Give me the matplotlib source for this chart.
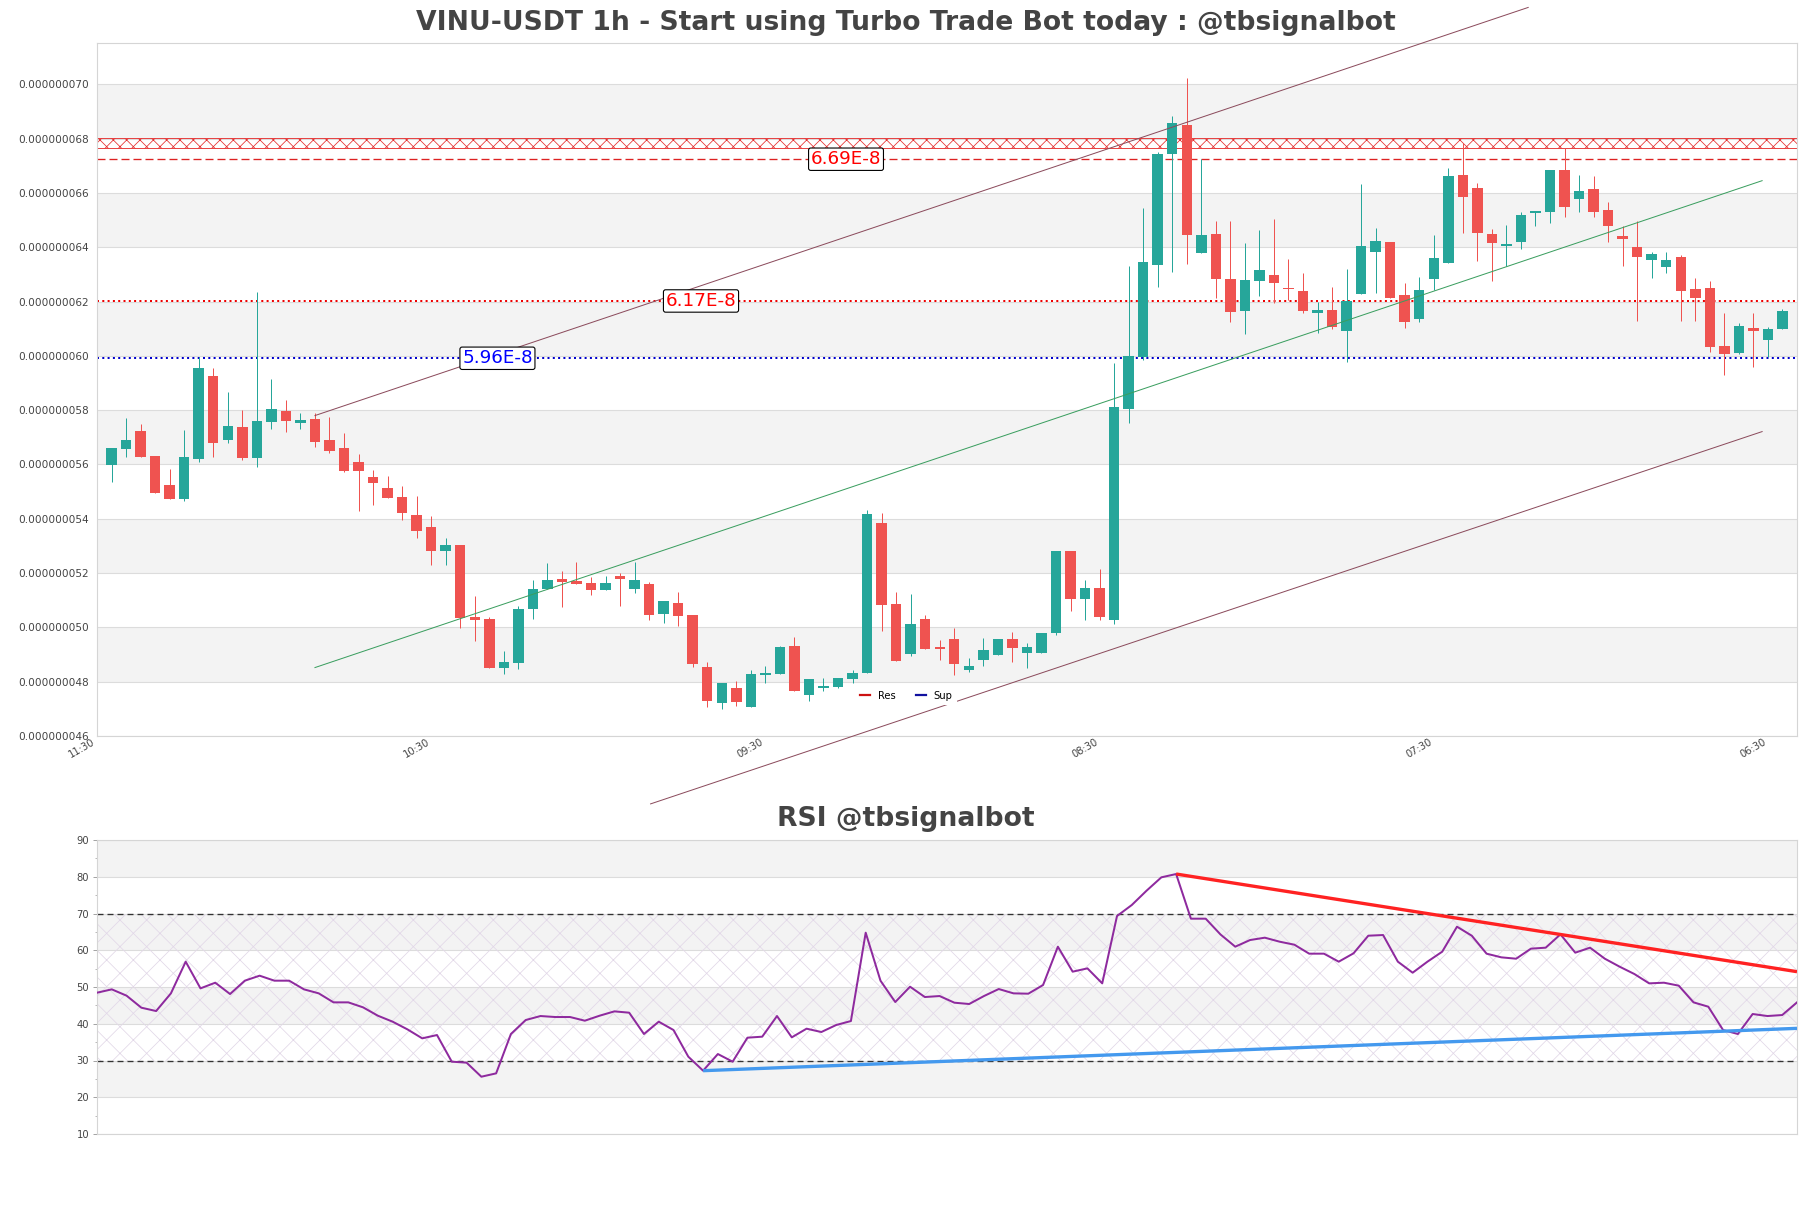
import numpy as np
import matplotlib.pyplot as plt
from matplotlib.lines import Line2D
from matplotlib.ticker import FuncFormatter, MultipleLocator

plt.rcParams["font.family"] = ["DejaVu Sans"]
plt.rcParams["hatch.linewidth"] = 0.7

# prices in units of 1e-9 USDT
SCALE = 1e-9

opens = [
    55.98, 56.58, 57.23, 56.31, 55.24, 54.74, 56.21, 59.25, 56.90, 57.38,
    56.24, 57.57, 57.97, 57.51, 57.67, 56.90, 56.59, 56.09, 55.52, 55.12,
    54.79, 54.14, 53.69, 52.82, 53.03, 50.37, 50.31, 48.51, 48.70, 50.67,
    51.42, 51.80, 51.72, 51.63, 51.39, 51.89, 51.42, 51.59, 50.50, 50.91,
    50.45, 48.55, 47.22, 47.78, 47.08, 48.25, 48.28, 49.31, 47.51, 47.78,
    47.81, 48.11, 48.33, 53.85, 50.86, 49.02, 50.31, 49.28, 49.57, 48.43,
    48.80, 48.98, 49.59, 49.04, 49.06, 49.80, 52.81, 51.04, 51.44, 50.27,
    58.03, 59.94, 63.34, 67.43, 68.50, 63.77, 64.47, 62.82, 61.66, 62.77,
    62.97, 62.51, 62.39, 61.59, 61.69, 60.93, 62.28, 63.84, 64.18, 62.24,
    61.36, 62.82, 63.41, 66.66, 66.17, 64.47, 64.06, 64.20, 65.25, 65.31,
    66.84, 65.78, 66.14, 65.37, 64.41, 64.02, 63.53, 63.28, 63.65, 62.47,
    62.49, 60.36, 60.12, 61.04, 60.59, 60.99,
]
highs = [
    56.62, 57.70, 57.49, 56.31, 55.83, 57.27, 59.97, 59.55, 58.68, 58.00,
    62.34, 59.15, 58.37, 57.88, 57.88, 57.76, 57.14, 56.38, 55.79, 55.57,
    55.20, 54.84, 54.10, 53.30, 53.03, 51.15, 50.37, 49.14, 50.78, 51.74,
    52.38, 52.07, 52.39, 51.87, 51.89, 51.99, 52.39, 51.66, 50.97, 51.29,
    50.45, 48.71, 47.96, 48.02, 48.43, 48.57, 49.31, 49.65, 48.11, 48.12,
    48.14, 48.43, 54.32, 54.20, 51.32, 51.23, 50.45, 49.53, 49.97, 48.86,
    49.61, 49.59, 49.84, 49.41, 49.81, 52.81, 52.81, 51.74, 52.15, 59.72,
    63.31, 65.43, 67.52, 68.83, 70.22, 67.24, 64.98, 64.98, 64.14, 64.63,
    65.04, 63.55, 63.04, 61.99, 62.52, 63.18, 66.33, 64.70, 64.18, 62.67,
    62.89, 64.45, 66.90, 67.83, 66.38, 64.66, 64.82, 65.28, 65.33, 66.84,
    67.64, 66.66, 66.62, 65.65, 64.78, 64.98, 63.84, 63.84, 63.71, 62.85,
    62.77, 61.56, 61.22, 61.59, 61.07, 61.72,
]
lows = [
    55.36, 56.28, 56.28, 54.96, 54.74, 54.66, 56.10, 56.26, 56.78, 56.16,
    55.92, 57.29, 57.21, 57.29, 56.63, 56.43, 55.73, 54.30, 54.50, 54.77,
    53.95, 53.30, 52.29, 52.29, 49.99, 49.51, 48.51, 48.28, 48.45, 50.32,
    51.42, 50.76, 51.61, 51.21, 51.39, 50.80, 51.27, 50.27, 50.17, 50.06,
    48.55, 47.08, 46.99, 47.10, 47.08, 47.96, 48.28, 47.67, 47.29, 47.67,
    47.75, 47.96, 48.33, 49.88, 48.77, 48.94, 49.21, 48.80, 48.24, 48.37,
    48.57, 48.98, 48.73, 48.51, 49.06, 49.72, 50.61, 50.27, 50.29, 50.12,
    57.54, 59.85, 62.52, 63.10, 63.40, 63.77, 62.12, 61.26, 60.79, 62.21,
    61.93, 62.06, 61.56, 60.83, 60.97, 59.78, 62.28, 62.33, 62.14, 61.01,
    61.26, 62.42, 63.41, 64.51, 63.50, 62.77, 63.32, 63.92, 64.78, 64.90,
    65.12, 65.31, 65.10, 64.20, 63.32, 61.30, 62.85, 63.04, 61.30, 61.30,
    60.15, 59.29, 60.06, 59.60, 59.97, 60.99,
]
closes = [
    56.59, 56.90, 56.28, 54.96, 54.74, 56.26, 59.55, 56.80, 57.41, 56.24,
    57.60, 58.04, 57.61, 57.64, 56.84, 56.51, 55.77, 55.77, 55.33, 54.77,
    54.22, 53.56, 52.82, 53.03, 50.33, 50.27, 48.51, 48.71, 50.67, 51.43,
    51.73, 51.68, 51.61, 51.39, 51.63, 51.79, 51.74, 50.45, 50.97, 50.42,
    48.65, 47.28, 47.96, 47.25, 48.28, 48.33, 49.27, 47.67, 48.11, 47.85,
    48.14, 48.33, 54.17, 50.83, 48.77, 50.12, 49.21, 49.22, 48.65, 48.57,
    49.16, 49.59, 49.25, 49.26, 49.81, 52.81, 51.05, 51.44, 50.39, 58.13,
    59.99, 63.44, 67.43, 68.56, 64.45, 64.45, 62.82, 61.63, 62.79, 63.16,
    62.70, 62.47, 61.66, 61.69, 61.07, 62.02, 64.04, 64.23, 62.14, 61.26,
    62.42, 63.61, 66.62, 65.86, 64.54, 64.17, 64.11, 65.19, 65.33, 66.84,
    65.49, 66.07, 65.31, 64.79, 64.31, 63.63, 63.75, 63.53, 62.39, 62.14,
    60.34, 60.06, 61.10, 60.93, 60.99, 61.65,
]

rsi = [
    48.45, 49.36, 47.64, 44.37, 43.46, 48.27, 56.89, 49.63, 51.17, 48.09,
    51.72, 53.08, 51.72, 51.72, 49.36, 48.27, 45.82, 45.82, 44.46, 42.19,
    40.56, 38.47, 36.03, 36.93, 29.68, 29.41, 25.59, 26.50, 37.21, 41.01,
    42.10, 41.83, 41.83, 40.83, 42.19, 43.37, 43.01, 37.21, 40.56, 38.29,
    31.04, 27.23, 31.76, 29.68, 36.21, 36.48, 42.10, 36.30, 38.66, 37.75,
    39.65, 40.74, 64.78, 51.72, 45.91, 50.08, 47.27, 47.54, 45.73, 45.37,
    47.54, 49.45, 48.27, 48.18, 50.54, 60.97, 54.17, 55.07, 50.99, 69.31,
    72.31, 76.21, 79.84, 80.74, 68.59, 68.59, 64.30, 60.97, 62.78, 63.42,
    62.33, 61.51, 59.07, 59.07, 56.89, 59.16, 63.96, 64.14, 56.89, 53.89,
    56.89, 59.61, 66.41, 63.96, 59.07, 58.07, 57.70, 60.43, 60.70, 64.33,
    59.34, 60.70, 57.70, 55.53, 53.53, 50.99, 51.17, 50.36, 45.82, 44.64,
    38.29, 37.21, 42.65, 42.10, 42.37, 45.82,
]

time_labels = ["11:30", "10:30", "09:30", "08:30", "07:30", "06:30"]
label_every = 23

# support / resistance levels
res_level = 62.02
sup_level = 59.91
res_dashed = 67.24
res_zone = (67.64, 68.01)
tag_texts = ["6.69E-8", "6.17E-8", "5.96E-8"]
tag_levels = [res_dashed, res_level, sup_level]
tag_colors = ["red", "red", "blue"]
tag_x = [50.55, 40.57, 26.56]

# channel lines (candle index, price)
mid_x, mid_y = [14, 113.6], [48.52, 66.45]
upper_x, upper_y = [14, 97.5], [57.80, 72.83]
lower_x, lower_y = [37.1, 113.6], [43.50, 57.21]

# RSI trend lines (index, rsi)
rsi_res_x, rsi_res_y = [73, 115], [80.74, 54.17]
rsi_sup_x, rsi_sup_y = [41, 115], [27.23, 38.75]

UP = "#26a69a"
DOWN = "#ef5350"
BAND = "#f3f3f3"
GRID = "#dcdcdc"
TXT = "#444444"

W, H, DPI = 1811, 1208, 80
fig = plt.figure(figsize=(W / DPI, H / DPI), dpi=DPI)
fig.patch.set_facecolor("white")

ax = fig.add_axes([97 / W, 1 - 736 / H, 1700 / W, 693 / H])
ax2 = fig.add_axes([97 / W, 1 - 1134 / H, 1700 / W, 294 / H])


def style_axes(a):
    for sp in a.spines.values():
        sp.set_color("#d5d5d5")
        sp.set_linewidth(1.0)
    a.set_axisbelow(True)
    a.grid(axis="y", color=GRID, linewidth=1.0)
    a.grid(axis="x", visible=False)


def stripe(a, ticks):
    ticks = sorted(ticks, reverse=True)
    for j in range(len(ticks) - 1):
        if j % 2 == 0:
            a.axhspan(ticks[j + 1], ticks[j], color=BAND, lw=0, zorder=0)


# ---- price panel ----
o = np.array(opens) * SCALE
h = np.array(highs) * SCALE
l = np.array(lows) * SCALE
c = np.array(closes) * SCALE
n = len(o)
x = np.arange(n)
colors = np.where(c >= o, UP, DOWN)

price_ticks = np.arange(46, 71, 2) * SCALE
style_axes(ax)
stripe(ax, list(price_ticks))

ax.axhspan(res_zone[0] * SCALE, res_zone[1] * SCALE, facecolor="none",
           edgecolor="#e53030", hatch="xx", lw=0.8, zorder=1)
ax.axhline(res_dashed * SCALE, color="#dd2222", lw=1.2, ls=(0, (6, 3)), zorder=1)
ax.axhline(res_level * SCALE, color="#ee0000", lw=1.8, ls=":", zorder=1)
ax.axhline(sup_level * SCALE, color="#0000cc", lw=1.8, ls=":", zorder=1)

ax.vlines(x, l, h, colors=colors, lw=0.9, zorder=2)
body = np.maximum(np.abs(c - o), 0.04 * SCALE)
ax.bar(x, body, bottom=np.minimum(o, c), width=0.72, color=colors, lw=0, zorder=3)

ax.plot(mid_x, np.array(mid_y) * SCALE, color="#3a9e5f", lw=0.9, zorder=4)
ax.plot(upper_x, np.array(upper_y) * SCALE, color="#8b4b5c", lw=0.9,
        zorder=4, clip_on=False)
ax.plot(lower_x, np.array(lower_y) * SCALE, color="#8b4b5c", lw=0.9,
        zorder=4, clip_on=False)

for t, lv, col, tx in zip(tag_texts, tag_levels, tag_colors, tag_x):
    ax.text(tx, lv * SCALE, t, color=col, fontsize=16.5, ha="center", va="center",
            zorder=6, bbox=dict(boxstyle="round,pad=0.12", fc="white", ec="black", lw=1.0))

ax.set_xlim(-1, n)
ax.set_ylim(46 * SCALE, 71.52 * SCALE)
ax.set_yticks(price_ticks)
ax.yaxis.set_major_formatter(FuncFormatter(lambda v, _p: f"{v:.9f}"))
ax.tick_params(axis="y", length=0, pad=7, labelsize=9.5, labelcolor=TXT)
ax.set_xticks(np.arange(len(time_labels)) * label_every - 1)
ax.set_xticklabels(time_labels, rotation=30, ha="right")
ax.tick_params(axis="x", length=0, pad=1, labelsize=9, labelcolor=TXT)

handles = [Line2D([], [], color="#cc1111", lw=2), Line2D([], [], color="#11119f", lw=2)]
leg = ax.legend(handles, ["Res", "Sup"], loc="center", bbox_to_anchor=(0.476, 0.058),
                ncol=2, fontsize=9, handlelength=1.0, handletextpad=0.8,
                columnspacing=2.0, frameon=True, fancybox=False, framealpha=1.0,
                borderpad=0.3)
leg.get_frame().set_edgecolor("white")
leg.set_zorder(5)

fig.text(0.5, 1 - 23 / H, "VINU-USDT 1h - Start using Turbo Trade Bot today : @tbsignalbot",
         ha="center", va="center", fontsize=24, fontweight="bold", color=TXT)

# ---- RSI panel ----
r = np.array(rsi)
rsi_ticks = np.arange(10, 91, 10)
style_axes(ax2)
stripe(ax2, list(rsi_ticks))
ax2.axhspan(30, 70, facecolor="none", edgecolor="#e2d8e8", hatch="x", lw=0, zorder=1)
ax2.axhline(70, color="#333333", lw=1.2, ls=(0, (4.5, 3)), zorder=2)
ax2.axhline(30, color="#333333", lw=1.2, ls=(0, (4.5, 3)), zorder=2)

ax2.plot(np.arange(len(r)), r, color="#8e2a9e", lw=1.8, zorder=3)
ax2.plot(rsi_res_x, rsi_res_y, color="#ff2222", lw=3.0, zorder=4, solid_capstyle="butt")
ax2.plot(rsi_sup_x, rsi_sup_y, color="#4499ee", lw=3.0, zorder=4, solid_capstyle="butt")

ax2.set_xlim(0, len(r) - 1)
ax2.set_ylim(10, 90)
ax2.set_yticks(rsi_ticks)
ax2.yaxis.set_minor_locator(MultipleLocator(5))
ax2.set_xticks([])
ax2.tick_params(axis="y", which="major", length=4, color="#999999", pad=3,
                labelsize=9, labelcolor=TXT)
ax2.tick_params(axis="y", which="minor", length=2, color="#999999")

fig.text(0.5, 1 - 819 / H, "RSI @tbsignalbot", ha="center", va="center",
         fontsize=24, fontweight="bold", color=TXT)

fig.savefig("out.png", dpi=DPI, facecolor="white")
